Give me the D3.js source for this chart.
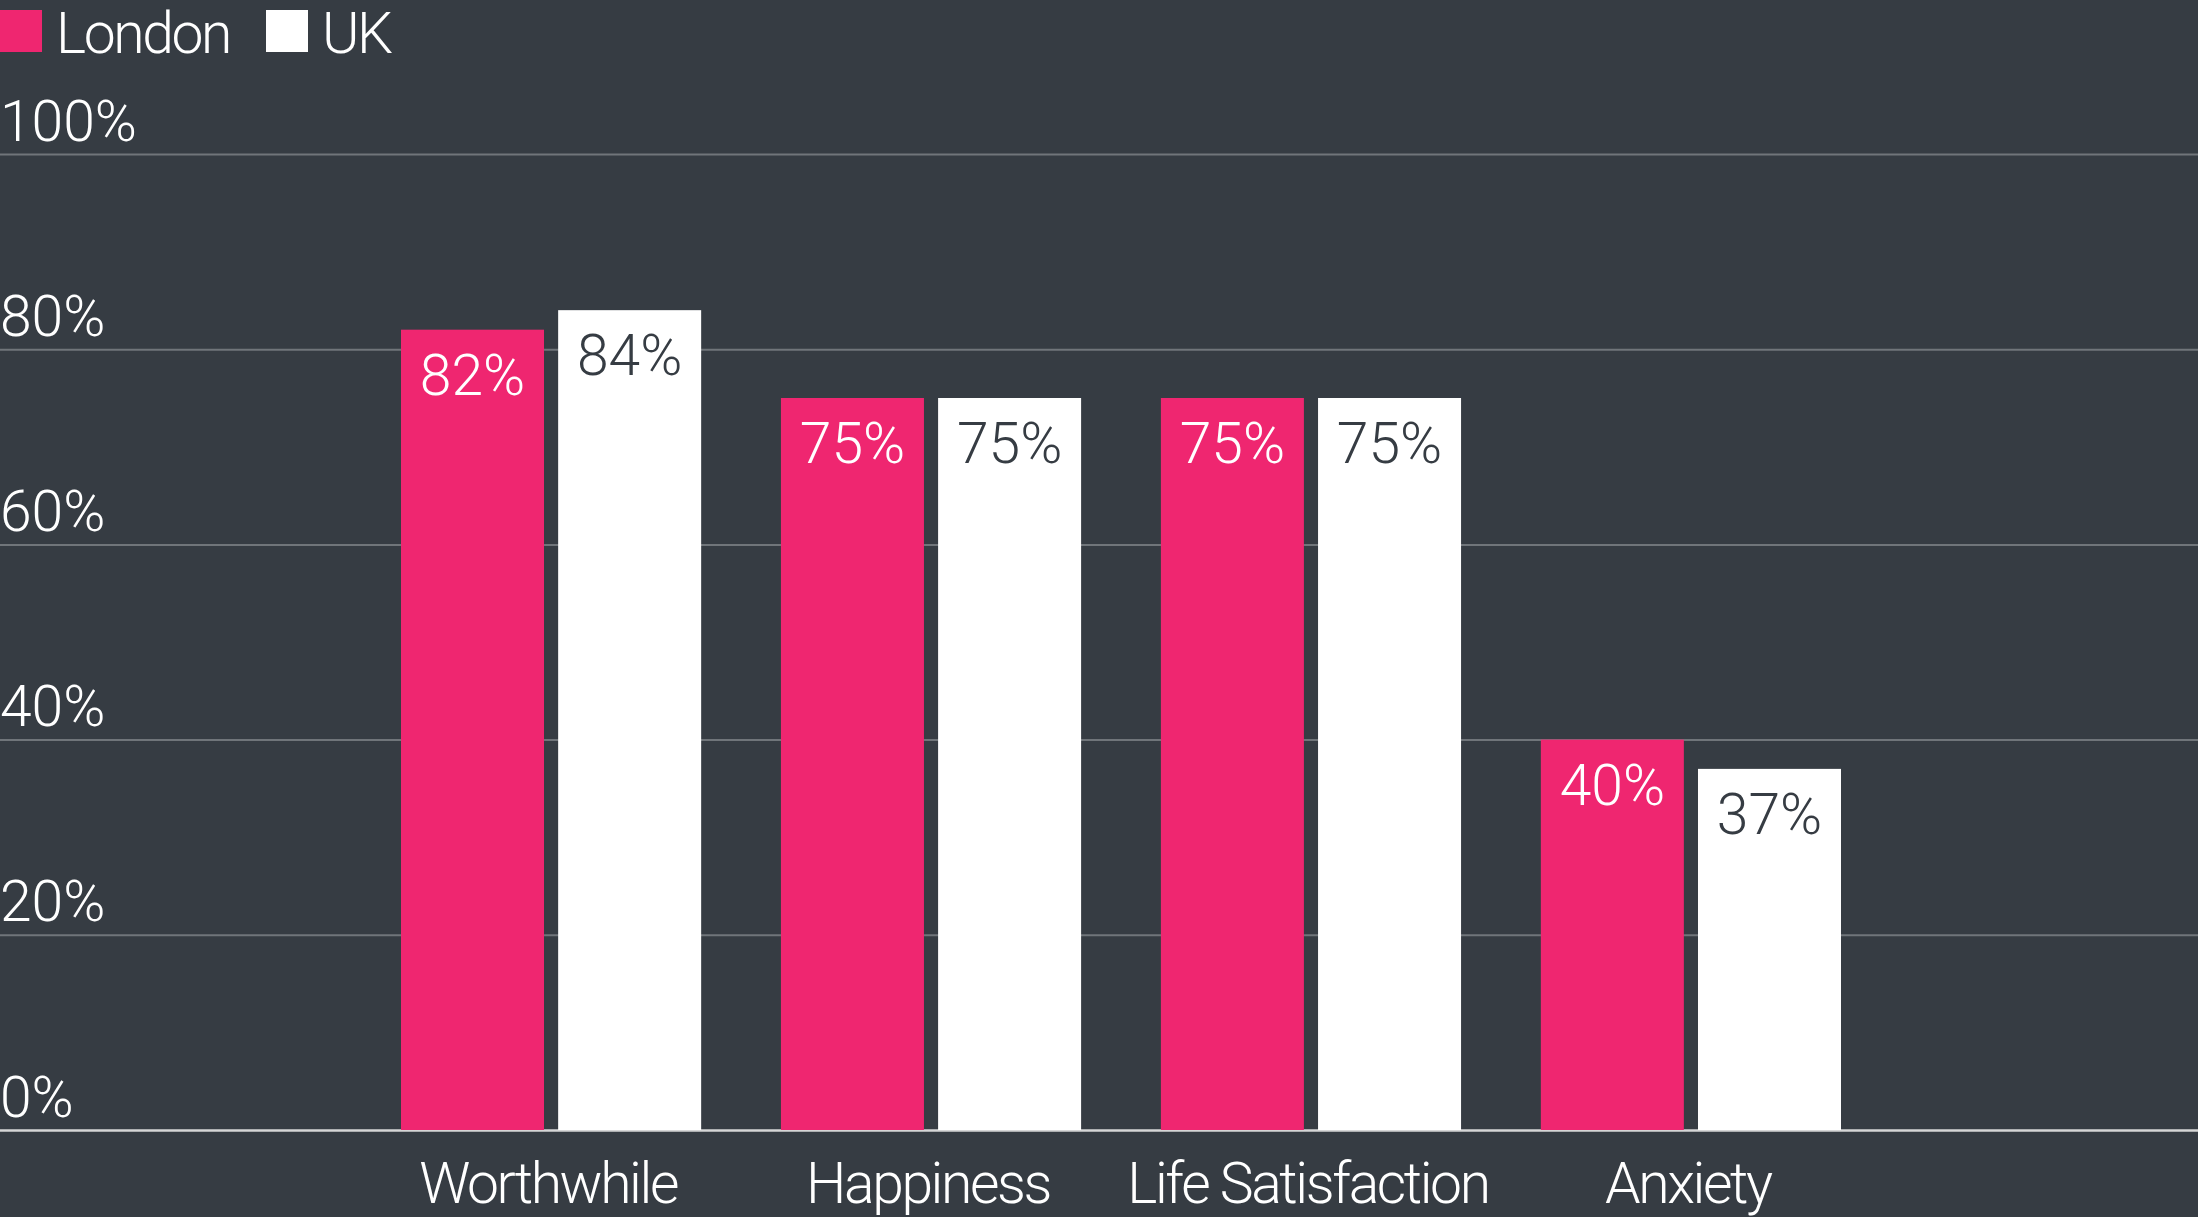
<!DOCTYPE html>
<html>
<head>
<meta charset="utf-8">
<script src="https://cdn.jsdelivr.net/npm/d3@7"></script>
<style>
  html, body { margin: 0; padding: 0; background: #363c43; overflow: hidden; }
  svg { display: block; }
  text { font-family: Roboto, "Liberation Sans", sans-serif; font-weight: 300; }
  .word { letter-spacing: -2.4px; }
</style>
</head>
<body>
<svg width="2198" height="1217"></svg>
<script>
var width = 2198;
var height = 1217;

// data
var categories = ["Worthwhile", "Happiness", "Life Satisfaction", "Anxiety"];
var seriesNames = ["London", "UK"];
var londonValues = [82, 75, 75, 40];
var ukValues = [84, 75, 75, 37];
var yTicks = [0, 20, 40, 60, 80, 100];

var colors = { London: "#ef2670", UK: "#ffffff" };
var labelColors = { London: "#ffffff", UK: "#363c43" };
var fontSize = 57;

var svg = d3.select("svg");

var x0 = d3.scaleBand().domain(categories).range([401, 1841]).paddingInner(0.21).paddingOuter(0);
var x1 = d3.scaleBand().domain(seriesNames).range([0, x0.bandwidth()]).paddingInner(0.09);
var y = d3.scaleLinear().domain([0, 100]).range([1130, 154]);

// grid lines + tick labels
var yAxis = d3.axisRight(y)
  .tickValues(yTicks)
  .tickSize(width)
  .tickFormat(function(d) { return d + "%"; });

var gy = svg.append("g").call(yAxis);
gy.select(".domain").remove();
gy.selectAll(".tick line")
  .attr("stroke", function(d) { return d === 0 ? "#d6d6d6" : "#70757a"; })
  .attr("stroke-width", function(d) { return d === 0 ? 2.5 : 2; });
gy.selectAll(".tick text")
  .attr("x", 0)
  .attr("dy", -14)
  .attr("text-anchor", "start")
  .attr("fill", "#ffffff")
  .style("font-size", fontSize + "px");

var rows = categories.map(function(c, i) {
  return { category: c, values: [
    { key: "London", value: londonValues[i] },
    { key: "UK", value: ukValues[i] }
  ] };
});

var groups = svg.selectAll("g.group").data(rows)
  .enter()
  .append("g")
  .attr("class", "group")
  .attr("transform", function(d) { return "translate(" + x0(d.category) + ",0)"; });

groups.selectAll("rect").data(function(d) { return d.values; })
  .enter()
  .append("rect")
  .attr("x", function(d) { return x1(d.key); })
  .attr("y", function(d) { return y(d.value); })
  .attr("width", x1.bandwidth())
  .attr("height", function(d) { return y(0) - y(d.value); })
  .attr("fill", function(d) { return colors[d.key]; });

groups.selectAll("text.value").data(function(d) { return d.values; })
  .enter()
  .append("text")
  .attr("class", "value")
  .attr("x", function(d) { return x1(d.key) + x1.bandwidth() / 2; })
  .attr("y", function(d) { return y(d.value) + 65; })
  .attr("text-anchor", "middle")
  .attr("fill", function(d) { return labelColors[d.key]; })
  .style("font-size", fontSize + "px")
  .text(function(d) { return d.value + "%"; });

// category labels
svg.append("g").selectAll("text").data(categories)
  .enter()
  .append("text")
  .attr("class", "word")
  .attr("x", function(d) { return x0(d) + x0.bandwidth() / 2 - 3; })
  .attr("y", 1203)
  .attr("text-anchor", "middle")
  .attr("fill", "#ffffff")
  .style("font-size", fontSize + "px")
  .text(function(d) { return d; });

// legend
var legendX = [0, 266];
var legend = svg.append("g").selectAll("g").data(seriesNames)
  .enter()
  .append("g")
  .attr("transform", function(d, i) { return "translate(" + legendX[i] + ",0)"; });
legend.append("rect")
  .attr("x", 0).attr("y", 10)
  .attr("width", 42).attr("height", 42)
  .attr("fill", function(d) { return colors[d]; });
legend.append("text")
  .attr("class", "word")
  .attr("x", 56).attr("y", 53)
  .attr("fill", "#ffffff")
  .style("font-size", fontSize + "px")
  .text(function(d) { return d; });
</script>
</body>
</html>
